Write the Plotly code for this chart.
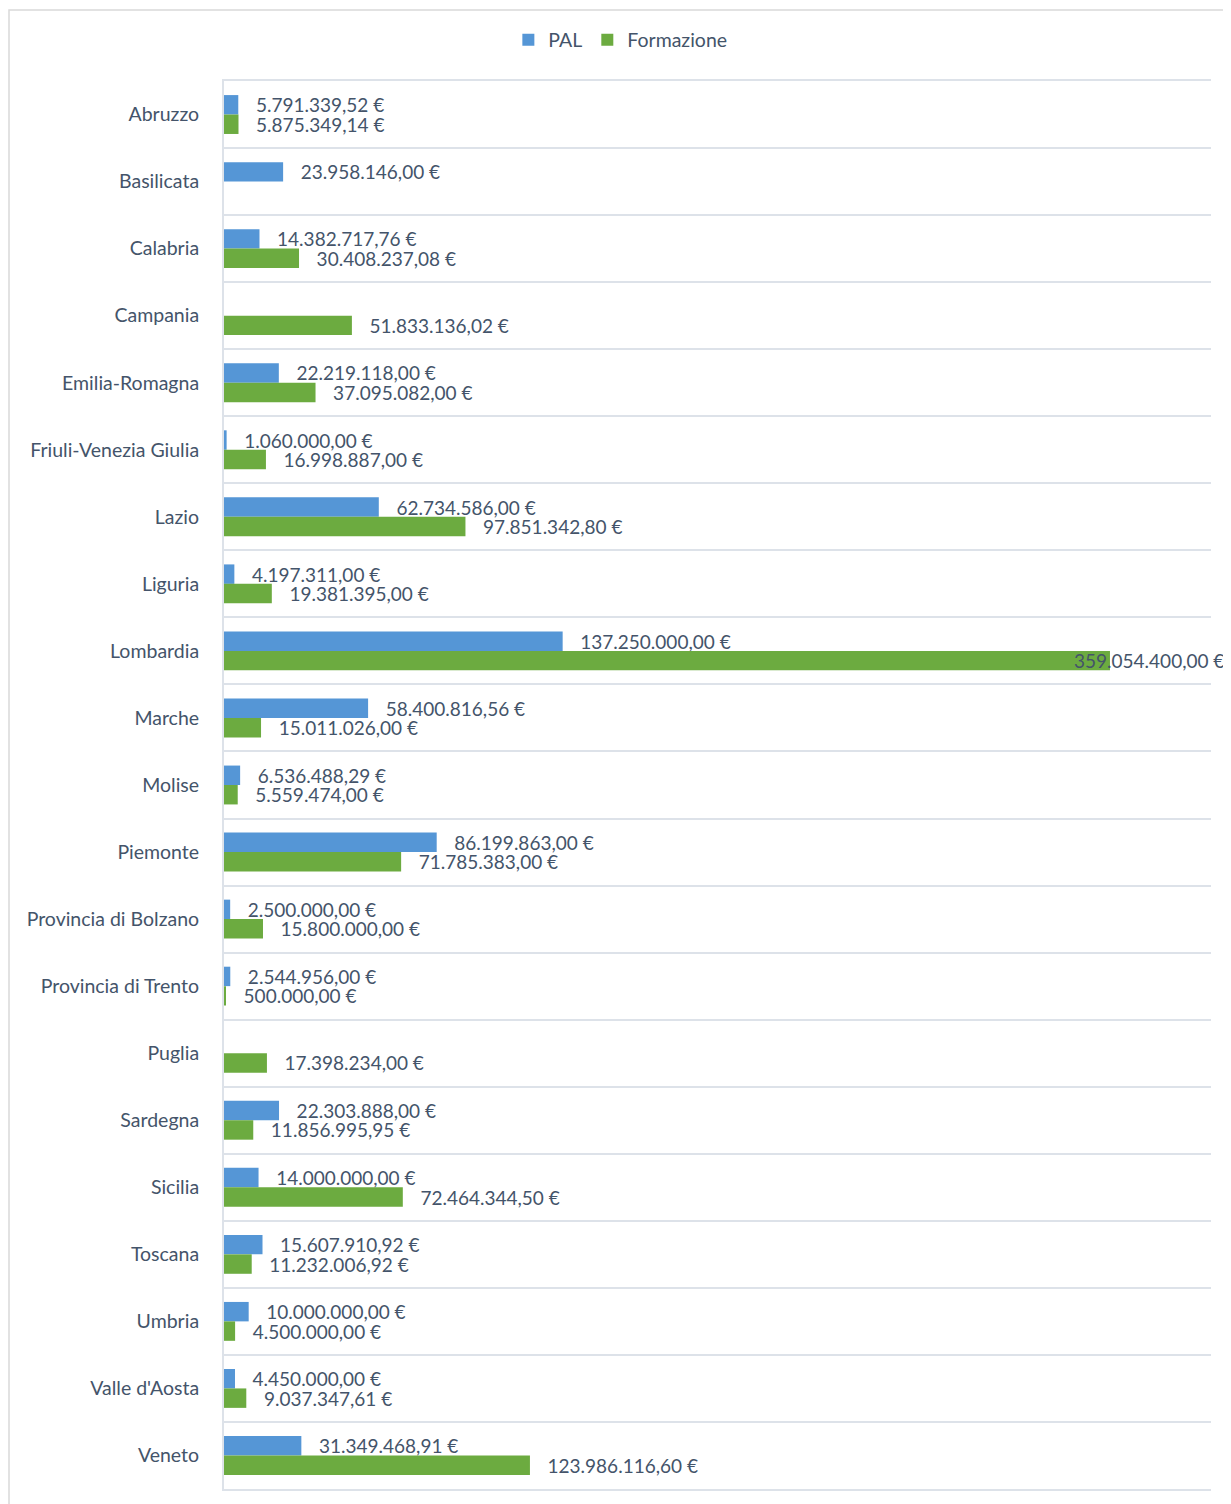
import plotly.graph_objects as go

regions = ["Abruzzo", "Basilicata", "Calabria", "Campania", "Emilia-Romagna",
           "Friuli-Venezia Giulia", "Lazio", "Liguria", "Lombardia", "Marche",
           "Molise", "Piemonte", "Provincia di Bolzano", "Provincia di Trento",
           "Puglia", "Sardegna", "Sicilia", "Toscana", "Umbria", "Valle d'Aosta",
           "Veneto"]

pal = [5791339.52, 23958146.00, 14382717.76, None, 22219118.00,
       1060000.00, 62734586.00, 4197311.00, 137250000.00, 58400816.56,
       6536488.29, 86199863.00, 2500000.00, 2544956.00,
       None, 22303888.00, 14000000.00, 15607910.92, 10000000.00, 4450000.00,
       31349468.91]

formazione = [5875349.14, None, 30408237.08, 51833136.02, 37095082.00,
              16998887.00, 97851342.80, 19381395.00, 359054400.00, 15011026.00,
              5559474.00, 71785383.00, 15800000.00, 500000.00,
              17398234.00, 11856995.95, 72464344.50, 11232006.92, 4500000.00, 9037347.61,
              123986116.60]

x_max = 400_000_000

TEXT = "#44546a"
FONT = "Lato"
PAD = "\u00a0" * 3
VSIZE = 19
CSIZE = 19.5

# figure geometry (page has an 8px body margin)
W, H = 1223, 1496
ML, MR, MT, MB = 216, 20, 73, 15
PW, PH = W - ML - MR, H - MT - MB


def eur(v):
    s = f"{v:,.2f}"
    s = s.replace(",", "X").replace(".", ",").replace("X", ".")
    return s + " €"


def labels(vals, skip=None):
    out = []
    for i, v in enumerate(vals):
        if v is None or i == skip:
            out.append("")
        else:
            out.append(PAD + eur(v))
    return out


# the largest value's label is pulled back inside the chart (as in the original)
big_idx = max(range(len(formazione)), key=lambda i: formazione[i] or 0)

fig = go.Figure()
fig.add_trace(go.Bar(
    name="PAL", y=regions, x=pal, orientation="h",
    marker=dict(color="#5596d6", line=dict(width=0)),
    text=labels(pal), textposition="outside", textangle=0,
    constraintext="none", cliponaxis=False,
    textfont=dict(family=FONT, size=VSIZE, color=TEXT),
))
fig.add_trace(go.Bar(
    name="Formazione", y=regions, x=formazione, orientation="h",
    marker=dict(color="#6cab40", line=dict(width=0)),
    text=labels(formazione, skip=big_idx), textposition="outside", textangle=0,
    constraintext="none", cliponaxis=False,
    textfont=dict(family=FONT, size=VSIZE, color=TEXT),
))

fig.add_annotation(
    x=1, xref="paper", y=regions[big_idx], yref="y",
    text=eur(formazione[big_idx]), showarrow=False,
    xanchor="right", xshift=15, yshift=-10,
    font=dict(family=FONT, size=VSIZE, color=TEXT),
)

# outer chart border
fig.add_shape(
    type="rect", xref="paper", yref="paper",
    x0=(1 - ML) / PW, x1=(W + 10 - ML) / PW,
    y0=-(MB + 20) / PH, y1=1 + (MT - 2) / PH,
    line=dict(color="#d9d9d9", width=1.5), fillcolor="rgba(0,0,0,0)", layer="below",
)

fig.update_layout(
    width=W, height=H,
    margin=dict(l=ML, r=MR, t=MT, b=MB),
    paper_bgcolor="white", plot_bgcolor="white",
    barmode="group", bargap=0.42, bargroupgap=0,
    font=dict(family=FONT, size=VSIZE, color=TEXT),
    showlegend=True,
    legend=dict(
        orientation="h", xref="container", yref="container",
        x=0.5007, y=1 - 32 / H, xanchor="center", yanchor="middle",
        font=dict(family=FONT, size=CSIZE, color=TEXT),
        itemwidth=30, traceorder="normal",
    ),
    xaxis=dict(range=[0, x_max], showticklabels=False, ticks="", showgrid=False,
               zeroline=False, showline=True, mirror=True,
               linecolor="#dde2e9", linewidth=2, fixedrange=True),
    yaxis=dict(
        type="category", autorange="reversed",
        tickson="boundaries", ticks="", showgrid=True,
        gridcolor="#dde2e9", gridwidth=2,
        showline=True, linecolor="#dde2e9", linewidth=2,
        ticklabelstandoff=19,
        tickfont=dict(family=FONT, size=CSIZE, color=TEXT),
        zeroline=False,
    ),
)

fig.write_html("out.html")
